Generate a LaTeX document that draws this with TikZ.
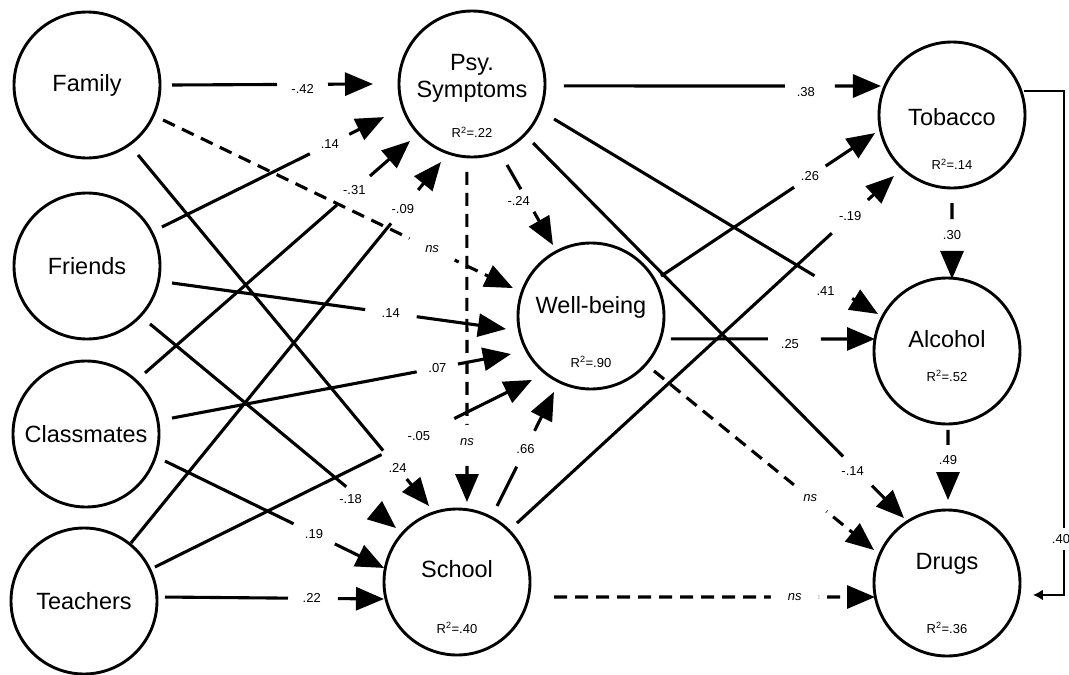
\documentclass[tikz,border=0pt]{standalone}
\usepackage{fontspec}
\setmainfont{Liberation Sans}
\usetikzlibrary{arrows.meta,calc}
\tikzset{
  var/.style={circle,draw,line width=2.9pt,minimum size=146pt,inner sep=0pt,outer sep=0pt,font=\fontsize{23.5}{27}\selectfont},
  vname/.style={inner sep=0pt,align=center,font=\fontsize{23.5}{27}\selectfont},
  rsq/.style={inner sep=0pt,font=\fontsize{13}{15}\selectfont},
  conn/.style={line width=3.1pt,-{Triangle[length=28pt,width=23pt]}},
  dconn/.style={conn,dash pattern=on 13pt off 8pt},
  gapat/.style 2 args={dash pattern=on #1pt off #2pt on 3000pt},
  coef/.style={inner sep=0pt,font=\fontsize{13}{15}\selectfont},
  nsl/.style={circle,fill=white,inner sep=0pt,font=\fontsize{13}{15}\selectfont\itshape},
}
\begin{document}
\begin{tikzpicture}[x=1pt,y=1pt]
\useasboundingbox (0,0) rectangle (1069,-675);
% variables
\node[var] (family) at (87,-85) {Family};
\node[var] (friends) at (87,-266) {Friends};
\node[var] (classmates) at (86,-434) {Classmates};
\node[var] (teachers) at (84,-601) {Teachers};
\node[var] (psy) at (472,-84) {};
\node[vname] (psyname) at ([yshift=5.5pt]psy.center) {Psy.\\Symptoms};
\node[rsq] (psyr) at ([yshift=-48pt]psy.center) {R\textsuperscript{2}=.22};
\node[var] (wellbeing) at (591,-316) {};
\node[vname] (wbname) at ([yshift=9pt]wellbeing.center) {Well-being};
\node[rsq] (wbr) at ([yshift=-46pt]wellbeing.center) {R\textsuperscript{2}=.90};
\node[var] (school) at (457,-582) {};
\node[vname] (schname) at ([yshift=13pt]school.center) {School};
\node[rsq] (schr) at ([yshift=-46pt]school.center) {R\textsuperscript{2}=.40};
\node[var] (tobacco) at (952,-115) {};
\node[vname] (tobname) at ([yshift=-2pt]tobacco.center) {Tobacco};
\node[rsq] (tobr) at ([yshift=-49pt]tobacco.center) {R\textsuperscript{2}=.14};
\node[var] (alcohol) at (947,-351) {};
\node[vname] (alcname) at ([yshift=12pt]alcohol.center) {Alcohol};
\node[rsq] (alcr) at ([yshift=-25pt]alcohol.center) {R\textsuperscript{2}=.52};
\node[var] (drugs) at (947,-583) {};
\node[vname] (drname) at ([yshift=19pt]drugs.center) {Drugs};
\node[rsq] (drr) at ([yshift=-45pt]drugs.center) {R\textsuperscript{2}=.36};
% dashed (non-significant) paths
\draw[dconn] ($(family)+(-24.7:83.7pt)$) -- node[nsl,pos=.769,minimum size=50pt]{ns} ($(wellbeing)+(160.3:82.9pt)$);
\draw[dconn] ($(psy)+(-93.3:88.1pt)$) -- node[nsl,pos=.818,minimum size=34pt]{ns} ($(school)+(82.9:80.6pt)$);
\draw[dconn] ($(wellbeing)+(-41.1:83.6pt)$) -- node[nsl,pos=.71,minimum size=42pt]{ns} ($(drugs)+(155.7:80.1pt)$);
\draw[dconn] ($(school)+(-8.8:98.2pt)$) -- node[nsl,pos=.75,minimum size=48pt]{ns} ($(drugs)+(191:73.3pt)$);
% solid paths
\draw[conn,gapat={105}{51}] ($(family)+(0:85pt)$) -- node[coef,pos=.65,yshift=-5pt]{-.42} ($(psy)+(180:99pt)$);
\draw[conn,gapat={165}{44}] ($(friends)+(27.5:84.5pt)$) -- node[coef,pos=.756]{.14} ($(psy)+(200.6:94pt)$);
\draw[conn,gapat={255}{44}] ($(classmates)+(46:84.9pt)$) -- node[coef,pos=.79]{-.31} ($(psy)+(222.6:84.2pt)$);
\draw[conn,gapat={412}{43}] ($(teachers)+(51:74.7pt)$) -- node[coef,pos=.877]{-.09} ($(psy)+(248.3:84pt)$);
\draw[conn,gapat={384}{37}] ($(family)+(-53.9:86.6pt)$) -- node[coef,pos=.892]{.24} ($(school)+(110.2:81pt)$);
\draw[conn,gapat={195}{52}] ($(friends)+(-11.3:86.7pt)$) -- node[coef,pos=.655]{.14} ($(wellbeing)+(188.7:86pt)$);
\draw[conn,gapat={255}{38}] ($(friends)+(-42.6:85.6pt)$) -- node[coef,pos=.86,xshift=-11pt]{-.18} ($(school)+(138.5:81.5pt)$);
\draw[conn,gapat={249}{42}] ($(classmates)+(10.5:87.5pt)$) -- node[coef,pos=.783]{.07} ($(wellbeing)+(205.4:88.6pt)$);
\draw[conn,gapat={143}{46}] ($(classmates)+(-18.9:83.5pt)$) -- node[coef,pos=.68]{.19} ($(school)+(169.1:74.3pt)$);
\draw[conn,gapat={253}{81}] ($(teachers)+(25.6:78.7pt)$) -- node[coef,pos=.70]{-.05} ($(wellbeing)+(227.3:87pt)$);
\draw[conn,gapat={123}{50}] ($(teachers)+(2.8:81.1pt)$) -- node[coef,pos=.67]{.22} ($(school)+(193.1:75pt)$);
\draw[conn,gapat={28}{26}] ($(psy)+(-66.6:88.2pt)$) -- node[coef,pos=.45,xshift=-9pt]{-.24} ($(wellbeing)+(118.2:80.5pt)$);
\draw[conn,gapat={221}{50}] ($(psy)+(-1.2:92pt)$) -- node[coef,pos=.763,yshift=-6pt]{.38} ($(tobacco)+(157.8:76.7pt)$);
\draw[conn,gapat={304}{44}] ($(psy)+(-23.1:89.2pt)$) -- node[coef,pos=.863,xshift=-8pt,yshift=-4pt]{.41} ($(alcohol)+(151.8:78.3pt)$);
\draw[conn,gapat={441}{41}] ($(psy)+(-44:84.9pt)$) -- node[coef,pos=.875,xshift=-5pt]{-.14} ($(drugs)+(123.5:77.9pt)$);
\draw[conn,gapat={160}{38}] ($(wellbeing)+(29.7:80.6pt)$) -- node[coef,pos=.696]{.26} ($(tobacco)+(193.2:79pt)$);
\draw[conn,gapat={97}{53}] ($(wellbeing)+(-16:83.2pt)$) -- node[coef,pos=.583,yshift=-5pt]{.25} ($(alcohol)+(170.5:73pt)$);
\draw[conn,gapat={428}{49}] ($(school)+(44.5:84.1pt)$) -- node[coef,pos=.884]{-.19} ($(tobacco)+(226.4:84.2pt)$);
\draw[conn,gapat={44}{40}] ($(school)+(62.2:85.9pt)$) -- node[coef,pos=.5]{.66} ($(wellbeing)+(244:84.5pt)$);
\draw[conn,gapat={16}{33}] ($(tobacco)+(-90:88pt)$) -- node[coef,pos=.42]{.30} ($(alcohol)+(86:72.2pt)$);
\draw[conn,gapat={15}{28}] ($(alcohol)+(-89.3:79pt)$) -- node[coef,pos=.43]{.49} ($(drugs)+(89.3:83pt)$);
% tobacco -> drugs along the right side
\coordinate (rail) at (1064,0);
\coordinate (tobout) at ($(tobacco)+(18.4:75.9pt)$);
\coordinate (drugin) at ($(drugs)+(-7.9:86.8pt)$);
\draw[line width=2.8pt,-{Latex[length=10pt,width=11pt]},gapat={477}{22}] (tobout) -- (tobout -| rail) -- node[coef,pos=.889,xshift=-3pt]{.40} (rail |- drugin) -- (drugin);
\end{tikzpicture}
\end{document}
